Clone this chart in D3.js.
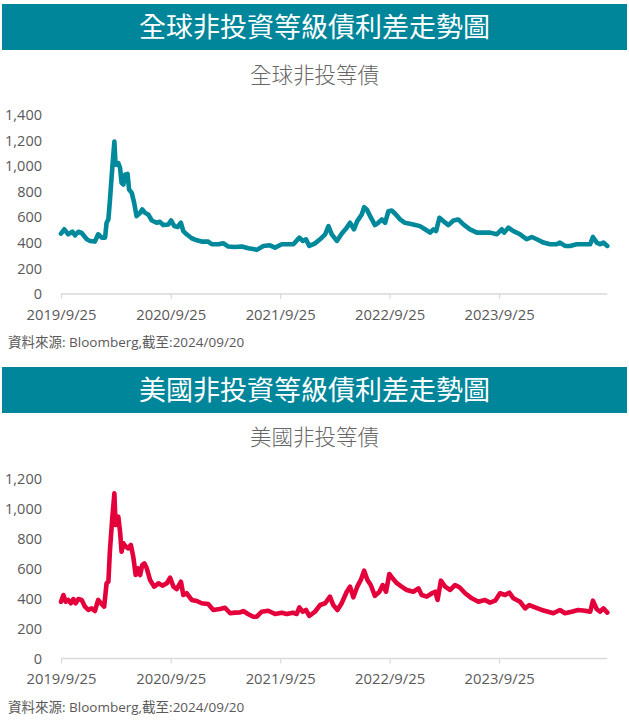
<!DOCTYPE html>
<html><head><meta charset="utf-8">
<script src="https://cdn.jsdelivr.net/npm/d3@7"></script>
<style>body{margin:0;background:#fff;} svg{display:block}</style>
</head><body><svg id="c" width="629" height="723"></svg>
<script>
// ---------- DATA ----------
const globalDates = ["2019-09-25","2019-10-06","2019-10-19","2019-11-02","2019-11-11","2019-11-22","2019-12-03","2019-12-20","2019-12-31","2020-01-16","2020-01-27","2020-02-08","2020-02-19","2020-02-24","2020-03-01","2020-03-06","2020-03-14","2020-03-21","2020-03-25","2020-04-03","2020-04-09","2020-04-14","2020-04-20","2020-04-25","2020-05-04","2020-05-09","2020-05-18","2020-05-26","2020-06-03","2020-06-15","2020-06-22","2020-07-01","2020-07-12","2020-07-24","2020-08-09","2020-08-20","2020-08-31","2020-09-17","2020-09-26","2020-10-07","2020-10-18","2020-10-29","2020-11-06","2020-11-17","2020-12-04","2020-12-21","2021-01-06","2021-01-28","2021-02-09","2021-03-03","2021-03-19","2021-04-05","2021-04-27","2021-05-20","2021-06-11","2021-07-01","2021-07-09","2021-07-31","2021-08-22","2021-09-08","2021-09-30","2021-10-17","2021-11-08","2021-11-28","2021-12-09","2021-12-20","2021-12-31","2022-01-18","2022-02-05","2022-02-22","2022-03-05","2022-03-16","2022-04-02","2022-04-18","2022-05-05","2022-05-16","2022-05-29","2022-06-09","2022-06-24","2022-07-02","2022-07-11","2022-07-22","2022-08-07","2022-08-18","2022-08-30","2022-09-10","2022-09-21","2022-10-02","2022-10-16","2022-10-30","2022-11-15","2022-12-13","2023-01-04","2023-01-21","2023-02-07","2023-02-18","2023-02-27","2023-03-10","2023-03-23","2023-04-09","2023-04-26","2023-05-12","2023-05-29","2023-06-20","2023-07-13","2023-08-04","2023-08-26","2023-09-17","2023-10-04","2023-10-12","2023-10-26","2023-11-12","2023-12-04","2023-12-26","2024-01-12","2024-01-29","2024-02-20","2024-03-13","2024-04-04","2024-04-15","2024-05-02","2024-05-19","2024-06-10","2024-07-02","2024-07-25","2024-08-03","2024-08-16","2024-08-27","2024-09-07","2024-09-20"];
const globalValues = [472,506,467,487,459,487,477,428,415,410,467,441,441,557,583,726,985,1192,1011,1024,985,869,856,933,939,817,791,713,609,635,661,635,622,575,557,565,539,544,575,531,524,557,492,467,436,420,410,410,389,389,397,371,368,371,358,350,345,376,381,363,389,389,389,441,415,428,376,394,428,467,531,467,415,472,519,557,506,570,622,679,661,609,539,557,583,557,648,653,622,583,557,544,531,506,480,506,492,596,570,539,575,583,544,506,480,480,480,467,506,480,519,492,467,428,446,428,402,389,389,402,376,376,389,389,389,446,402,389,402,376];

const usDates = ["2019-09-25","2019-10-03","2019-10-11","2019-10-19","2019-10-28","2019-11-05","2019-11-13","2019-11-22","2019-12-03","2019-12-14","2019-12-25","2020-01-05","2020-01-16","2020-01-27","2020-02-05","2020-02-16","2020-02-24","2020-03-01","2020-03-06","2020-03-14","2020-03-21","2020-03-25","2020-04-03","2020-04-09","2020-04-14","2020-04-20","2020-04-28","2020-05-06","2020-05-15","2020-05-23","2020-05-31","2020-06-07","2020-06-15","2020-06-22","2020-06-29","2020-07-07","2020-07-18","2020-08-01","2020-08-15","2020-08-28","2020-09-12","2020-09-23","2020-10-04","2020-10-15","2020-10-29","2020-11-06","2020-11-17","2020-12-04","2020-12-21","2021-01-06","2021-01-28","2021-02-14","2021-03-08","2021-03-25","2021-04-11","2021-04-27","2021-05-14","2021-05-25","2021-06-11","2021-06-27","2021-07-09","2021-07-25","2021-08-16","2021-09-08","2021-09-30","2021-10-17","2021-11-06","2021-11-19","2021-11-28","2021-12-09","2021-12-20","2021-12-31","2022-01-19","2022-02-05","2022-02-22","2022-03-10","2022-03-21","2022-04-04","2022-04-18","2022-05-05","2022-05-16","2022-05-27","2022-06-09","2022-06-21","2022-07-02","2022-07-13","2022-07-24","2022-08-07","2022-08-22","2022-09-02","2022-09-13","2022-09-24","2022-10-05","2022-10-19","2022-11-04","2022-11-21","2022-12-13","2022-12-30","2023-01-10","2023-01-27","2023-02-13","2023-02-24","2023-03-04","2023-03-15","2023-03-29","2023-04-15","2023-05-01","2023-05-16","2023-06-04","2023-06-26","2023-07-18","2023-08-09","2023-08-26","2023-09-12","2023-09-28","2023-10-15","2023-10-29","2023-11-12","2023-12-04","2023-12-21","2024-01-04","2024-01-23","2024-02-14","2024-03-07","2024-03-24","2024-04-15","2024-05-02","2024-05-24","2024-06-15","2024-07-08","2024-07-25","2024-08-03","2024-08-16","2024-08-27","2024-09-07","2024-09-20"];
const usValues = [380,425,380,392,370,398,370,398,392,347,325,336,318,392,370,347,504,514,715,939,1106,894,950,849,715,771,749,738,760,682,559,604,559,626,637,604,526,481,504,488,504,541,481,465,514,425,437,392,385,370,365,325,331,340,303,307,309,318,296,280,280,313,320,298,307,298,307,298,343,313,325,285,313,358,370,414,358,325,370,447,481,410,481,526,588,526,492,419,447,492,447,566,537,504,481,459,447,470,425,414,437,447,392,521,481,459,492,477,437,403,380,392,374,387,437,425,441,403,380,336,358,343,325,313,303,325,303,313,325,320,313,387,330,313,336,307];

const xTickDates = ["2019-09-25","2020-09-25","2021-09-25","2022-09-25","2023-09-25"];
const xTickLabels = ["2019/9/25","2020/9/25","2021/9/25","2022/9/25","2023/9/25"];
const globalYTicks = [0,200,400,600,800,1000,1200,1400];
const usYTicks = [0,200,400,600,800,1000,1200];
const titles = ["全球非投資等級債利差走勢圖","美國非投資等級債利差走勢圖"];
const subtitles = ["全球非投等債","美國非投等債"];
const sourceNote = "資料來源: Bloomberg,截至:2024/09/20";
const dateStart = "2019-09-25", dateEnd = "2024-09-20";

// ---------- DRAW ----------
const parse = d3.timeParse("%Y-%m-%d");
const svg = d3.select("#c");
const numFont = "'Open Sans', 'Noto Sans', sans-serif";
const cjkFont = "'Noto Sans CJK TC', 'Noto Sans CJK SC', sans-serif";
const textGray = "#595959";
const barColor = "#00869A";

const panels = [
  {top:4, title:titles[0], sub:subtitles[0], dates:globalDates, values:globalValues, yTicks:globalYTicks, yMax:1400, color:"#00899B", plotTop:115, plotBottom:294, subY:75, srcY:342},
  {top:367, title:titles[1], sub:subtitles[1], dates:usDates, values:usValues, yTicks:usYTicks, yMax:1200, color:"#E4003B", plotTop:479.3, plotBottom:658.5, subY:437, srcY:707}
];

const x = d3.scaleTime().domain([parse(dateStart), parse(dateEnd)]).range([61, 607.3]);

panels.forEach(p => {
  const g = svg.append("g");
  g.append("rect").attr("x",2).attr("y",p.top).attr("width",625).attr("height",46).attr("fill",barColor);
  g.append("text").attr("x",314.5).attr("y",p.top+23).attr("dy","0.36em")
    .attr("text-anchor","middle").attr("fill","#fff")
    .style("font-family",cjkFont).style("font-size","27px").style("font-weight","400")
    .text(p.title);
  g.append("text").attr("x",314.5).attr("y",p.subY).attr("dy","0.35em")
    .attr("text-anchor","middle").attr("fill","#666")
    .style("font-family",cjkFont).style("font-size","21.5px").style("font-weight","300")
    .text(p.sub);

  const y = d3.scaleLinear().domain([0,p.yMax]).range([p.plotBottom,p.plotTop]);

  // y axis labels (no line)
  const ya = g.append("g").attr("transform","translate(44,0)")
    .call(d3.axisLeft(y).tickValues(p.yTicks).tickSize(0).tickPadding(2).tickFormat(d3.format(",")));
  ya.select(".domain").remove();
  ya.selectAll("text").attr("fill",textGray).style("font-family",numFont).style("font-size","14.5px");

  // x axis
  const xa = g.append("g").attr("transform",`translate(0,${p.plotBottom})`)
    .call(d3.axisBottom(x).tickValues(xTickDates.map(parse)).tickSize(5).tickPadding(10)
      .tickFormat((d,i)=>xTickLabels[i]));
  xa.select(".domain").attr("stroke","#d9d9d9").attr("stroke-width",1.5).attr("d",`M${x.range()[0]},0H${x.range()[1]}`);
  xa.selectAll(".tick line").attr("stroke","#d9d9d9").attr("stroke-width",1.2);
  xa.selectAll("text").attr("fill",textGray).style("font-family",numFont).style("font-size","14.8px");

  const data = p.dates.map((d,i)=>({d:parse(d), v:p.values[i]}));
  g.append("path").datum(data)
    .attr("fill","none").attr("stroke",p.color).attr("stroke-width",4.6)
    .attr("stroke-linejoin","round").attr("stroke-linecap","round")
    .attr("d", d3.line().x(d=>x(d.d)).y(d=>y(d.v)));

  g.append("text").attr("x",8).attr("y",p.srcY).attr("dy","0.35em")
    .attr("fill",textGray).style("font-family",numFont+","+cjkFont).style("font-size","13.5px")
    .text(sourceNote);
});
</script></body></html>
